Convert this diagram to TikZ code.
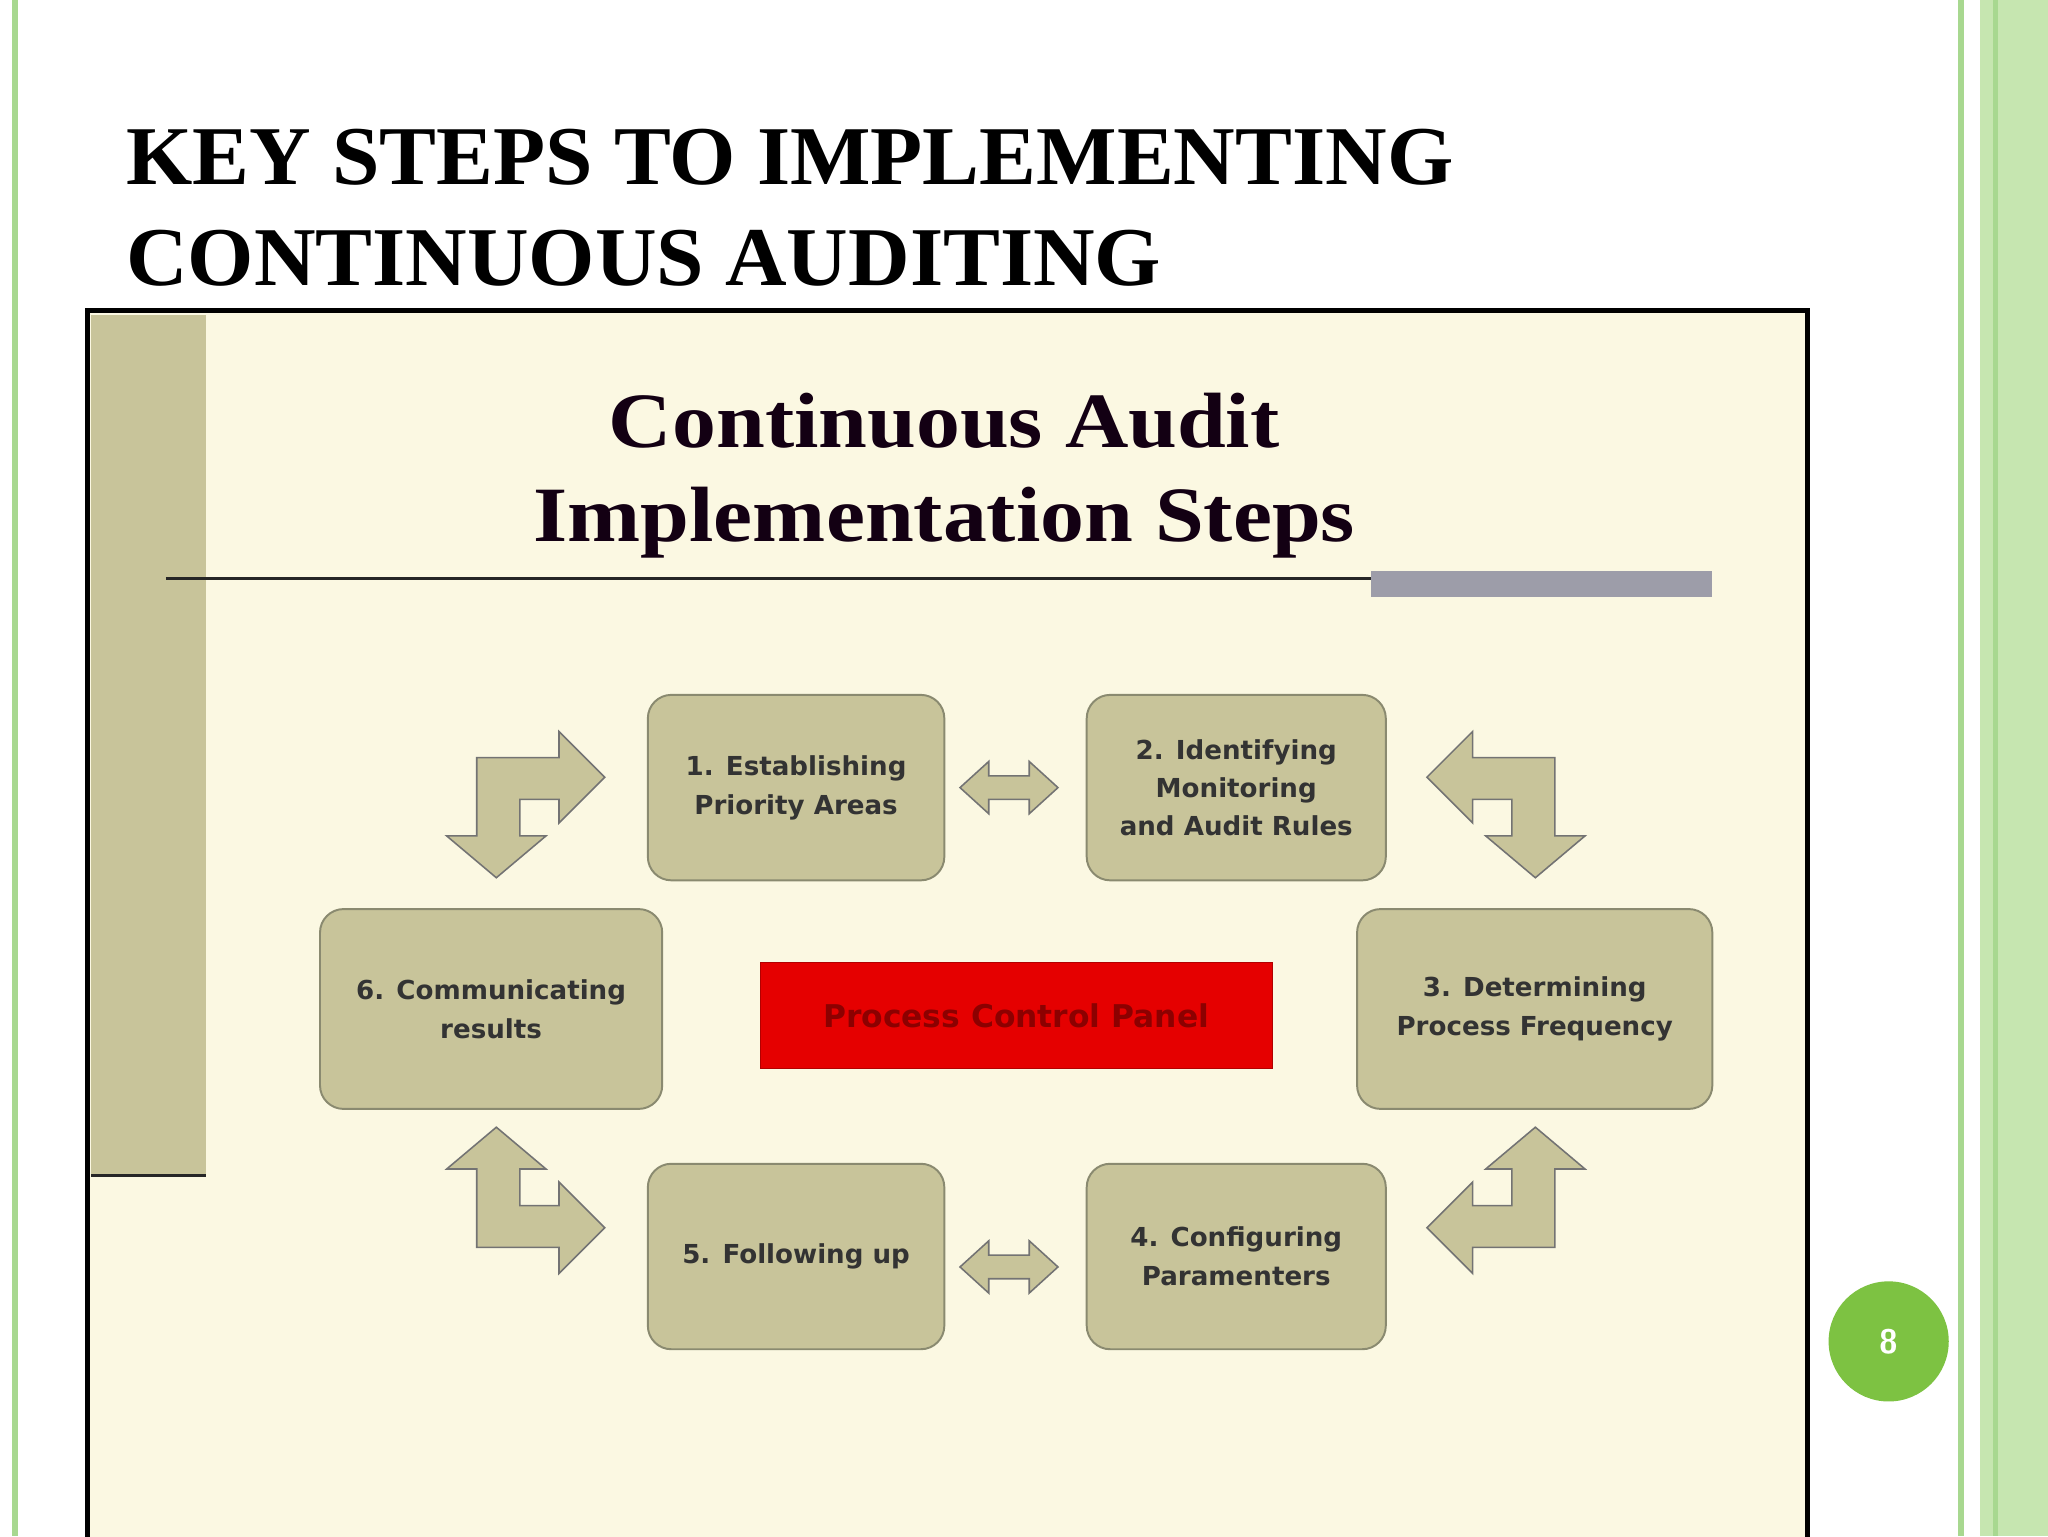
\documentclass[tikz,border=0pt]{standalone}
\usepackage{fontspec}
\setmainfont{Liberation Serif}
\newfontfamily\boxfont{DejaVu Sans}
\definecolor{olive}{HTML}{C8C49A}
\definecolor{cream}{HTML}{FBF8E2}
\definecolor{gedge}{HTML}{8A8A70}
\definecolor{pgreen}{HTML}{7DC242}
\definecolor{lgreen}{HTML}{C6E6B0}
\definecolor{mgreen}{HTML}{A8D890}
\begin{document}
\begin{tikzpicture}[x=1pt,y=-1pt,
  stepbox/.style={draw=gedge,line width=1.5pt,fill=olive,rounded corners=18pt,align=center,font=\boxfont\bfseries\fontsize{20}{30}\selectfont,text=black!80},
  bentarrow/.style={draw=black!55,line width=1.2pt,fill=olive},
  dbl/.style={draw=black!55,line width=1.2pt,fill=olive}]
\useasboundingbox (0,0) rectangle (1568,1176);
\fill[white] (0,0) rectangle (1568,1176);
% green borders
\fill[mgreen] (9,0) rectangle (14,1176);
\fill[mgreen] (1499,0) rectangle (1504,1176);
\fill[lgreen] (1516,0) rectangle (1568,1176);
\fill[mgreen] (1526,0) rectangle (1530,1176);
% title
\node[anchor=west,font=\bfseries\fontsize{64}{76}\selectfont,xscale=1.02] (t1) at (93,120) {KEY STEPS TO IMPLEMENTING};
\node[anchor=west,font=\bfseries\fontsize{64}{76}\selectfont,xscale=1.02] (t2) at (93,198) {CONTINUOUS AUDITING};
% frame
\draw[line width=4pt,fill=cream] (67,238) rectangle (1384,1180);
\fill[olive] (70,241) rectangle (158,900);
\draw[line width=3pt,black!85] (70,900) -- (158,900);
\node[font=\bfseries\fontsize{60}{76}\selectfont,text=black!85!violet,xscale=1.12] (it1) at (723,322) {Continuous Audit};
\node[font=\bfseries\fontsize{60}{76}\selectfont,text=black!85!violet,xscale=1.12] (it2) at (723,400) {Implementation Steps};
\draw[line width=2pt,black!85] (127,443) -- (1050,443);
\fill[black!35!blue!10!gray!70] (1050,437) rectangle (1311,457);
% boxes
\node[stepbox,minimum width=227pt,minimum height=142pt] (s1) at (609.5,603) {1. Establishing\\Priority Areas};
\node[stepbox,minimum width=229pt,minimum height=142pt,font=\boxfont\bfseries\fontsize{20}{29}\selectfont] (s2) at (946.5,603) {2. Identifying\\Monitoring\\and Audit Rules};
\node[stepbox,minimum width=262pt,minimum height=153pt] (s6) at (376,772.5) {6. Communicating\\results};
\node[stepbox,minimum width=272pt,minimum height=153pt] (s3) at (1175,772.5) {3. Determining\\Process Frequency};
\node[stepbox,minimum width=227pt,minimum height=142pt] (s5) at (609.5,962) {5. Following up};
\node[stepbox,minimum width=229pt,minimum height=142pt] (s4) at (946.5,962) {4. Configuring\\Paramenters};
\node[fill=red!90!black,draw=red!70!black,minimum width=392pt,minimum height=81pt,font=\boxfont\bfseries\fontsize{24}{30}\selectfont,text=red!55!black] (pcp) at (778,777.5) {Process Control Panel};
% double arrows
\foreach \y in {603,970}{
 \draw[dbl] (735,\y) -- (757,\y-20) -- (757,\y-9) -- (788,\y-9) -- (788,\y-20) -- (810,\y) -- (788,\y+20) -- (788,\y+9) -- (757,\y+9) -- (757,\y+20) -- cycle;
}
% bent arrows
\foreach \sx/\ox/\sy/\oy in {1/0/1/0,-1/1555.5/1/0,1/0/-1/1535,-1/1555.5/-1/1535}{
 \draw[bentarrow] (\ox+\sx*365,\oy+\sy*580) -- (\ox+\sx*428,\oy+\sy*580) -- (\ox+\sx*428,\oy+\sy*560) -- (\ox+\sx*463,\oy+\sy*595) -- (\ox+\sx*428,\oy+\sy*630) -- (\ox+\sx*428,\oy+\sy*612) -- (\ox+\sx*398,\oy+\sy*612) -- (\ox+\sx*398,\oy+\sy*640) -- (\ox+\sx*418,\oy+\sy*640) -- (\ox+\sx*380,\oy+\sy*672) -- (\ox+\sx*342,\oy+\sy*640) -- (\ox+\sx*365,\oy+\sy*640) -- cycle;
}
% page number
\node[circle,fill=pgreen,minimum size=92pt,text=white,font=\sffamily\bfseries\fontsize{26}{30}\selectfont] (pg) at (1446,1027) {8};
\end{tikzpicture}
\end{document}
